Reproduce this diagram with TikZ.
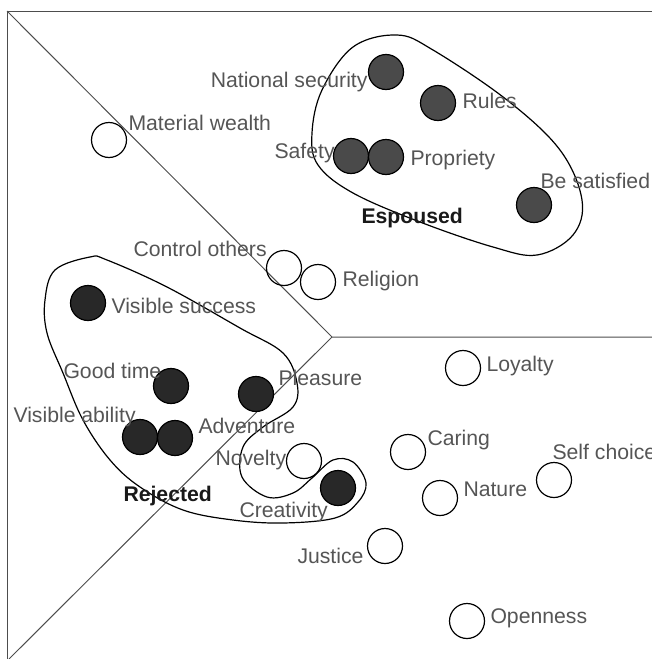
\documentclass[tikz,border=0pt]{standalone}
\usepackage{fontspec}
\setmainfont{Liberation Sans}
\definecolor{txtgrey}{HTML}{555555}
\definecolor{espgrey}{HTML}{4A4A4A}
\definecolor{rejgrey}{HTML}{282828}
\definecolor{linegrey}{HTML}{4D4D4D}
\begin{document}
\begin{tikzpicture}[x=0.5pt, y=-0.5pt, line width=0.5pt,
  val/.style={circle, draw, line width=0.6pt, minimum size=17.5pt, inner sep=0pt},
  esp/.style={val, fill=espgrey},
  rej/.style={val, fill=rejgrey},
  lbl/.style={font=\fontsize{10.6}{12}\selectfont, text=txtgrey, inner sep=0pt, anchor=base west},
  grp/.style={font=\bfseries\fontsize{10.6}{12}\selectfont, text=black!90, inner sep=0pt, anchor=base west},
  blob/.style={line width=0.6pt}]
  \useasboundingbox (0,0) rectangle (652,659);
  % frame and sectors
  \coordinate (tl) at (7,11);
  \coordinate (cen) at (332,337);
  \draw[linegrey] (652,11) -- (tl) -- (7,659);
  \draw[linegrey] (tl) -- (cen) -- (652,337);
  \draw[linegrey] (cen) -- (9,659);
  % group outlines
  \draw[blob] plot[smooth cycle, tension=0.6] coordinates {
    (397,35) (433,50) (507,100) (560,150) (582,200) (573,235) (537,255)
    (493,247) (420,222) (353,193) (318,165) (312,133) (322,90) (353,47)};
  \draw[blob] plot[smooth cycle, tension=0.6] coordinates {
    (90,257) (107,260) (167,287) (240,328) (283,353) (297,383) (293,407)
    (263,427) (243,447) (242,477) (267,497) (293,493) (312,478) (333,460)
    (353,462) (366,483) (358,502) (335,518) (283,523) (233,520) (183,510)
    (140,487) (110,460) (83,420) (63,373) (47,333) (45,300) (55,270)};
  % espoused values
  \node[esp] (natsec) at (386,72) {};
  \node[esp] (rules) at (438,103) {};
  \node[esp] (safety) at (351,156) {};
  \node[esp] (propr) at (386,157) {};
  \node[esp] (besat) at (534,205) {};
  % rejected values
  \node[rej] (vissuc) at (88,303) {};
  \node[rej] (goodt) at (171,386) {};
  \node[rej] (pleas) at (256,394) {};
  \node[rej] (visab) at (140,437) {};
  \node[rej] (advent) at (175,438) {};
  \node[rej] (creat) at (338,488) {};
  % other values
  \node[val] (matw) at (109,140) {};
  \node[val] (ctrl) at (284,268) {};
  \node[val] (relig) at (318,282) {};
  \node[val] (novel) at (304,461) {};
  \node[val] (loyal) at (463,368) {};
  \node[val] (caring) at (408,452) {};
  \node[val] (selfch) at (554,480) {};
  \node[val] (nature) at (440,498) {};
  \node[val] (just) at (385,546) {};
  \node[val] (open) at (467,621) {};
  % labels
  \node[lbl] (matwL) at (128,130) {Material wealth};
  \node[lbl, anchor=base east] (natsecL) at (368,87) {National security};
  \node[lbl] (rulesL) at (462,108) {Rules};
  \node[lbl] (safetyL) at (274,158) {Safety};
  \node[lbl] (proprL) at (410,165) {Propriety};
  \node[lbl] (besatL) at (540,188) {Be satisfied};
  \node[grp] (espL) at (361,223) {Espoused};
  \node[lbl] (ctrlL) at (133,256) {Control others};
  \node[lbl] (religL) at (342,286) {Religion};
  \node[lbl] (vissucL) at (111,313) {Visible success};
  \node[lbl] (goodtL) at (63,378) {Good time};
  \node[lbl] (pleasL) at (278,385) {Pleasure};
  \node[lbl] (visabL) at (13,422) {Visible ability};
  \node[lbl] (adventL) at (198,433) {Adventure};
  \node[lbl] (novelL) at (215,465) {Novelty};
  \node[lbl] (creatL) at (239,517) {Creativity};
  \node[grp] (rejL) at (123,501) {Rejected};
  \node[lbl] (loyalL) at (486,371) {Loyalty};
  \node[lbl] (caringL) at (427,445) {Caring};
  \node[lbl] (selfchL) at (552,459) {Self choice};
  \node[lbl] (natureL) at (463,496) {Nature};
  \node[lbl] (justL) at (297,563) {Justice};
  \node[lbl] (openL) at (490,623) {Openness};
\end{tikzpicture}
\end{document}
